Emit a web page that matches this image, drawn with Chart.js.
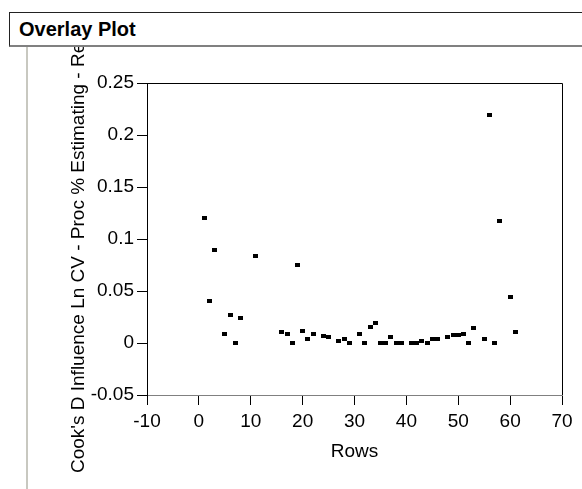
<!DOCTYPE html>
<html>
<head>
<meta charset="utf-8">
<script src="https://cdn.jsdelivr.net/npm/chart.js@4"></script>
<style>
  body { margin: 0; background: #fff; font-family: "Liberation Sans", Arial, sans-serif; }
  #wrap { position: relative; width: 582px; height: 489px; overflow: hidden; }
  #chart { position: absolute; left: 0; top: 0; }
  #header {
    position: absolute; left: 9px; top: 12px; width: 600px; height: 32px;
    border: 1px solid #222; border-bottom: 2px solid #808080;
    background: #fff; font-weight: bold; font-size: 20px; line-height: 32px;
    padding-left: 9px; box-sizing: content-box;
  }
  #sideline { position: absolute; left: 26px; top: 47px; width: 2px; height: 460px; background: #c8c8c0; }
</style>
</head>
<body>
<div id="wrap">
  <canvas id="chart" width="582" height="489"></canvas>
  <div id="sideline"></div>
  <div id="header">Overlay Plot</div>
</div>
<script>
// Rows / Cook's D values
const rows = [1, 2, 3, 5, 6, 7, 8, 11, 16, 17, 18, 19, 20, 21, 22, 24, 25, 27, 28, 29,
  31, 32, 33, 34, 35, 36, 37, 38, 39, 41, 42, 43, 44, 45, 46, 48, 49, 50, 51, 52, 53,
  55, 56, 57, 58, 60, 61];
const cooksD = [0.120, 0.040, 0.089, 0.009, 0.027, 0.000, 0.024, 0.084, 0.011, 0.009,
  0.000, 0.075, 0.012, 0.004, 0.009, 0.007, 0.0055, 0.002, 0.004, 0.000,
  0.009, 0.000, 0.015, 0.019, 0.000, 0.000, 0.0058, 0.000, 0.000, 0.000, 0.000,
  0.002, 0.000, 0.004, 0.004, 0.006, 0.0074, 0.0074, 0.009, 0.000, 0.014,
  0.004, 0.219, 0.000, 0.117, 0.044, 0.011];
const xTickLabels = ["-10", "0", "10", "20", "30", "40", "50", "60", "70"];
const yTickLabels = ["-0.05", "0", "0.05", "0.1", "0.15", "0.2", "0.25"];
const yTitle = "Cook's D Influence Ln CV - Proc % Estimating - Re";

const FONT = "'Liberation Sans', Arial, sans-serif";

// little black rectangle marker
const marker = document.createElement("canvas");
marker.width = 5;
marker.height = 4;
marker.getContext("2d").fillRect(0, 0, 5, 4);

const framePlugin = {
  id: "frame",
  afterDraw(chart) {
    const { ctx, chartArea: a } = chart;
    ctx.save();
    ctx.strokeStyle = "#000";
    ctx.lineWidth = 1;
    ctx.beginPath();
    ctx.moveTo(a.left, a.top + 0.5);
    ctx.lineTo(a.right + 0.5, a.top + 0.5);
    ctx.lineTo(a.right + 0.5, a.bottom);
    ctx.stroke();
    ctx.restore();

    // y title, clipped under the header like the original
    ctx.save();
    ctx.beginPath();
    ctx.rect(28, 46, 110, 443);
    ctx.clip();
    ctx.translate(84, 473);
    ctx.rotate(-Math.PI / 2);
    ctx.font = "19px " + FONT;
    ctx.fillStyle = "#000";
    ctx.textAlign = "left";
    ctx.textBaseline = "alphabetic";
    ctx.fillText(yTitle, 0, 0);
    ctx.restore();
  },
};

new Chart(document.getElementById("chart"), {
  type: "scatter",
  data: {
    datasets: [{
      data: rows.map((r, i) => ({ x: r, y: cooksD[i] })),
      pointStyle: marker,
      pointRadius: 3,
      backgroundColor: "#000",
      borderColor: "#000",
    }],
  },
  options: {
    responsive: false,
    animation: false,
    events: [],
    layout: { padding: { left: 0, top: 83, right: 20, bottom: 0 } },
    plugins: { legend: { display: false }, tooltip: { enabled: false } },
    scales: {
      x: {
        type: "linear",
        min: -10,
        max: 70,
        afterFit: (s) => { s.height = 94; },
        ticks: {
          stepSize: 10,
          color: "#000",
          padding: 5,
          font: { family: FONT, size: 19 },
          callback: (v, i) => xTickLabels[i],
        },
        grid: { drawOnChartArea: false, drawTicks: true, tickLength: 10, color: "#000" },
        border: { display: true, color: "#808080", width: 1 },
        title: {
          display: true,
          text: "Rows",
          color: "#000",
          font: { family: FONT, size: 19 },
          padding: { top: 0, bottom: 26 },
        },
      },
      y: {
        type: "linear",
        min: -0.05,
        max: 0.25,
        afterFit: (s) => { s.width = 147; },
        ticks: {
          stepSize: 0.05,
          color: "#000",
          padding: 3,
          font: { family: FONT, size: 19 },
          callback: (v, i) => yTickLabels[i],
        },
        grid: { drawOnChartArea: false, drawTicks: true, tickLength: 10, color: "#000" },
        border: { display: true, color: "#000", width: 1 },
      },
    },
  },
  plugins: [framePlugin],
});
</script>
</body>
</html>
